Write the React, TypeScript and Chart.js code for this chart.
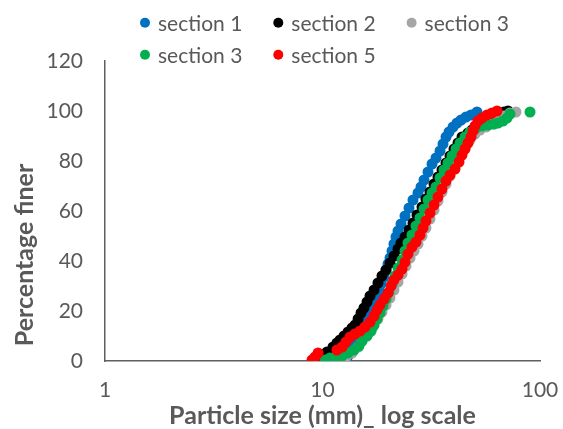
import React, { useEffect, useRef } from "react";
import { Chart, registerables } from "chart.js";

Chart.register(...registerables);

// ---- data ----
const seriesLabels = ["section 1", "section 2", "section 3", "section 3", "section 5"];
const seriesColors = ["#0070C0", "#000000", "#A5A5A5", "#00B050", "#FF0000"];

const s1Size = [12.69, 13.10, 13.38, 13.81, 14.26, 14.72, 15.19, 15.68, 16.19, 16.72, 17.26, 17.80, 18.18, 18.58, 19.18, 19.59, 20.01, 20.43, 20.87, 21.31, 21.77, 22.24, 22.96, 23.95, 24.99, 26.07, 27.48, 28.37, 29.29, 30.55, 31.88, 33.25, 34.69, 35.81, 36.97, 38.16, 39.82, 41.53, 43.34, 45.68, 48.17, 51.32];
const s1Finer = [0, 2.0, 4.0, 6.0, 8.0, 10.4, 12.8, 15.6, 18.0, 20.4, 22.8, 25.2, 28.0, 30.8, 33.6, 36.4, 38.8, 41.2, 44.0, 46.8, 49.6, 52.0, 54.8, 58.0, 61.2, 64.4, 67.2, 69.6, 72.4, 75.6, 78.8, 81.2, 84.0, 86.8, 89.6, 91.6, 93.6, 95.2, 96.4, 97.6, 98.4, 99.6];

const s2Size = [10.05, 10.49, 11.18, 11.65, 12.04, 12.56, 13.10, 13.67, 14.11, 14.57, 15.03, 15.51, 16.02, 16.54, 17.26, 17.99, 18.77, 19.59, 20.43, 21.31, 22.24, 22.96, 23.95, 24.99, 26.07, 27.19, 28.67, 29.90, 31.21, 32.56, 33.96, 35.43, 36.97, 38.57, 40.24, 41.97, 43.80, 46.66, 48.68, 51.87, 55.27, 58.90, 62.10, 65.47, 68.31, 71.26];
const s2Finer = [1.6, 3.6, 5.6, 7.2, 8.4, 10.0, 11.6, 13.2, 14.4, 16.8, 19.2, 21.2, 23.6, 26.0, 28.4, 31.2, 34.0, 36.4, 39.2, 42.0, 44.8, 47.2, 49.6, 52.4, 55.2, 58.4, 61.6, 64.8, 67.6, 70.8, 73.6, 76.4, 79.2, 82.0, 84.8, 87.2, 89.6, 91.2, 92.4, 93.2, 94.4, 96.0, 97.6, 98.8, 99.6, 100];

const s3aSize = [11.18, 12.04, 12.82, 13.67, 14.57, 15.19, 16.19, 17.07, 17.99, 18.77, 19.59, 20.43, 21.31, 22.24, 23.21, 24.20, 25.25, 26.34, 27.48, 28.67, 29.90, 31.21, 32.56, 33.96, 35.43, 36.97, 38.57, 40.24, 41.97, 43.80, 45.68, 47.66, 50.25, 52.98, 56.45, 60.16, 64.11, 68.31, 72.78, 77.55];
const s3aFiner = [0.4, 0.8, 1.6, 3.2, 5.6, 8.0, 10.8, 13.6, 16.8, 19.6, 22.4, 25.2, 28.4, 31.6, 34.8, 38.0, 41.2, 44.0, 46.8, 50.0, 53.2, 56.8, 60.4, 64.0, 67.6, 70.8, 74.0, 77.2, 80.4, 83.2, 86.0, 88.4, 90.8, 92.4, 93.6, 94.8, 96.4, 98.0, 99.2, 99.6];

const s3bSize = [10.27, 10.83, 11.53, 12.30, 13.10, 13.96, 14.72, 15.19, 16.02, 16.72, 17.26, 17.80, 18.38, 18.97, 19.59, 20.22, 20.87, 21.54, 22.24, 23.21, 23.95, 24.72, 25.79, 26.90, 28.07, 29.29, 30.55, 31.88, 33.25, 34.69, 36.19, 37.76, 39.40, 41.09, 42.88, 45.20, 47.66, 50.78, 54.11, 57.66, 61.45, 64.11, 67.58, 70.51, 72.78, 89.96];
const s3bFiner = [0.4, 1.2, 1.6, 2.0, 3.2, 4.4, 6.0, 8.0, 10.0, 12.0, 14.4, 16.8, 19.2, 22.0, 24.8, 27.6, 30.8, 34.0, 37.2, 40.4, 44.0, 47.2, 50.4, 54.0, 57.2, 60.8, 64.4, 67.2, 69.6, 73.2, 76.4, 79.2, 82.0, 84.8, 87.2, 89.6, 91.6, 93.2, 94.0, 94.4, 94.8, 95.2, 96.0, 97.2, 98.8, 99.6];

const s5Size = [8.95, 9.24, 9.54, 11.65, 12.30, 12.82, 13.38, 14.11, 14.87, 15.68, 16.54, 17.26, 17.80, 18.38, 19.18, 20.01, 20.65, 21.31, 22.24, 23.21, 23.95, 24.72, 25.79, 26.90, 28.07, 28.98, 29.90, 31.21, 32.56, 33.96, 35.43, 36.97, 38.57, 40.66, 42.42, 43.80, 45.20, 46.66, 48.17, 49.20, 50.25, 51.87, 54.11, 57.06, 60.16, 63.43];
const s5Finer = [0.4, 1.6, 3.2, 4.4, 5.6, 7.6, 9.6, 10.8, 12.0, 13.6, 15.6, 18.0, 20.4, 22.4, 24.8, 27.2, 30.0, 32.4, 34.4, 36.8, 39.6, 42.8, 45.6, 47.6, 50.4, 53.2, 56.0, 59.2, 62.4, 65.6, 68.8, 72.0, 74.4, 76.8, 79.6, 82.4, 84.8, 87.2, 89.6, 92.0, 94.0, 96.0, 97.2, 98.4, 99.2, 100];

const xTickValues = [1, 10, 100];
const yMin = 0;
const yMax = 120;
const yStep = 20;
const xTitle = "Particle size (mm)_ log scale";
const yTitle = "Percentage finer";

const seriesSizes = [s1Size, s2Size, s3aSize, s3bSize, s5Size];
const seriesFiner = [s1Finer, s2Finer, s3aFiner, s3bFiner, s5Finer];
// drawing order: red on top, blue at the bottom
const seriesOrder = [5, 4, 3, 2, 1];

const FONT = "Lato, 'Noto Sans', sans-serif";
const TEXT = "#595959";
const AXIS = "#5f5f5f";

const excelLegend = {
  id: "excelLegend",
  afterDraw(chart: any, _args: any, o: any) {
    const ctx = chart.ctx;
    ctx.save();
    ctx.font = `${o.size}px ${FONT}`;
    ctx.textAlign = "left";
    ctx.textBaseline = "alphabetic";
    chart.data.datasets.forEach((ds: any, i: number) => {
      const col = i % o.perRow;
      const row = Math.floor(i / o.perRow);
      const cx = o.x0 + col * o.dx;
      const cy = o.y0 + row * o.dy;
      ctx.fillStyle = ds.backgroundColor;
      ctx.beginPath();
      ctx.arc(cx, cy, o.r, 0, Math.PI * 2);
      ctx.fill();
      ctx.fillStyle = TEXT;
      ctx.fillText(ds.label, cx + o.gap, cy + o.base);
    });
    ctx.restore();
  },
};

const yAxisTitle = {
  id: "yAxisTitle",
  afterDraw(chart: any, _args: any, o: any) {
    const ctx = chart.ctx;
    ctx.save();
    ctx.translate(o.x, o.y);
    ctx.rotate(-Math.PI / 2);
    ctx.font = `bold ${o.size}px ${FONT}`;
    ctx.fillStyle = TEXT;
    ctx.textAlign = "center";
    ctx.textBaseline = "middle";
    ctx.fillText(o.text, 0, 0);
    ctx.restore();
  },
};

export default function App() {
  const ref = useRef<HTMLCanvasElement | null>(null);

  useEffect(() => {
    if (!ref.current) return;
    const datasets = seriesLabels.map((label, i) => ({
      label,
      data: seriesSizes[i].map((x, j) => ({ x, y: seriesFiner[i][j] })),
      backgroundColor: seriesColors[i],
      borderColor: seriesColors[i],
      pointRadius: 5.5,
      pointHoverRadius: 5.5,
      pointBorderWidth: 0,
      showLine: false,
      order: seriesOrder[i],
    }));

    const chart = new Chart(ref.current, {
      type: "scatter",
      data: { datasets },
      plugins: [excelLegend, yAxisTitle],
      options: {
        animation: false,
        responsive: false,
        events: [],
        layout: { padding: { top: 61, right: 23, left: 0, bottom: 0 } },
        plugins: {
          legend: { display: false },
          tooltip: { enabled: false },
          excelLegend: { size: 21, perRow: 3, x0: 145, dx: 133.3, y0: 22.7, dy: 32, r: 5, gap: 13, base: 8 },
          yAxisTitle: { text: yTitle, x: 25, y: 255, size: 25 },
        } as any,
        scales: {
          x: {
            type: "logarithmic",
            min: xTickValues[0],
            max: xTickValues[xTickValues.length - 1],
            afterBuildTicks: (scale: any) => {
              scale.ticks = xTickValues.map((v) => ({ value: v }));
            },
            afterFit: (scale: any) => {
              scale.height = 68;
            },
            ticks: {
              autoSkip: false,
              maxRotation: 0,
              padding: 0,
              color: TEXT,
              font: { family: FONT, size: 21, lineHeight: 2.8 },
              callback: (v: any) => String(v),
            },
            grid: { display: false, drawTicks: false },
            border: { display: true, color: AXIS, width: 1.5 },
            title: {
              display: true,
              text: xTitle,
              color: TEXT,
              font: { family: FONT, size: 25, weight: "bold", lineHeight: 1 },
              padding: { top: 0, bottom: 1 },
            },
          },
          y: {
            type: "linear",
            min: yMin,
            max: yMax,
            afterFit: (scale: any) => {
              scale.width = 105;
            },
            ticks: {
              stepSize: yStep,
              padding: 22,
              color: TEXT,
              font: { family: FONT, size: 21 },
            },
            grid: { display: false, drawTicks: false },
            border: { display: true, color: AXIS, width: 1.5 },
          },
        },
      } as any,
    });
    return () => chart.destroy();
  }, []);

  return (
    <div style={{ position: "fixed", left: 0, top: 0, width: 563, height: 429, background: "#fff" }}>
      <canvas ref={ref} width={563} height={429} style={{ width: 563, height: 429, display: "block" }} />
    </div>
  );
}
